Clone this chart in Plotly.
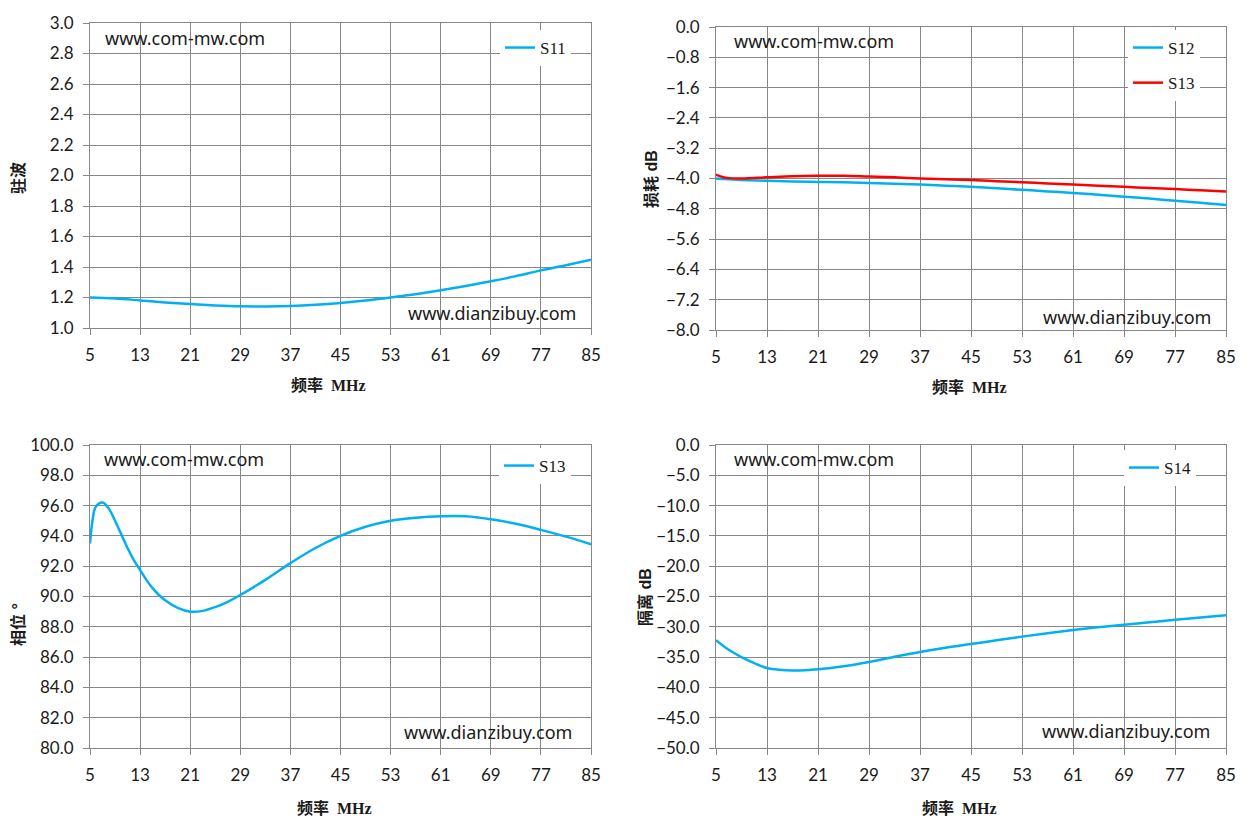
import plotly.graph_objects as go

W, H = 1252, 835

# ---------------- data ----------------
freq_s11 = [5, 9, 13, 17, 21, 25, 29, 33, 37, 41, 45, 49, 53, 57, 61, 65, 69, 73, 77, 81, 85]
vswr_s11 = [1.200, 1.193, 1.181, 1.168, 1.157, 1.148, 1.142, 1.141, 1.144, 1.152, 1.164, 1.180, 1.200, 1.222, 1.247, 1.275, 1.306, 1.340, 1.378, 1.412, 1.448]

freq_loss = [5, 6, 7, 9, 13, 17, 21, 25, 29, 33, 37, 41, 45, 49, 53, 57, 61, 65, 69, 73, 77, 81, 85]
loss_s12 = [-4.00, -4.01, -4.02, -4.04, -4.06, -4.08, -4.09, -4.10, -4.12, -4.14, -4.16, -4.19, -4.22, -4.26, -4.30, -4.34, -4.38, -4.43, -4.48, -4.53, -4.59, -4.64, -4.70]
loss_s13 = [-3.90, -3.96, -3.99, -4.00, -3.97, -3.94, -3.93, -3.93, -3.95, -3.97, -4.00, -4.02, -4.04, -4.07, -4.10, -4.13, -4.16, -4.19, -4.22, -4.25, -4.28, -4.31, -4.34]

freq_phase = [5, 5.4, 5.9, 7, 8, 9, 10, 11, 12, 13, 14, 15, 16, 17, 19, 21, 23, 25, 27, 29, 33, 37, 41, 45, 49, 53, 57, 61, 65, 69, 73, 77, 81, 85]
phase_s13 = [93.5, 95.0, 95.9, 96.2, 95.8, 95.0, 94.1, 93.2, 92.4, 91.75, 91.1, 90.55, 90.1, 89.75, 89.25, 89.0, 89.05, 89.3, 89.65, 90.1, 91.1, 92.2, 93.2, 94.0, 94.6, 95.0, 95.2, 95.3, 95.3, 95.1, 94.8, 94.4, 93.95, 93.45]

freq_iso = [5, 7, 9, 11, 13, 15, 17, 19, 21, 25, 29, 33, 37, 41, 45, 49, 53, 57, 61, 65, 69, 73, 77, 81, 85]
iso_s14 = [-32.2, -33.8, -35.0, -36.0, -36.8, -37.1, -37.2, -37.15, -37.0, -36.5, -35.8, -34.95, -34.15, -33.45, -32.85, -32.22, -31.62, -31.05, -30.52, -30.07, -29.65, -29.25, -28.85, -28.48, -28.1]

x_ticks = [5, 13, 21, 29, 37, 45, 53, 61, 69, 77, 85]
x_title = "频率  MHz"
y_titles = ["驻波", "损耗 dB", "相位 °", "隔离 dB"]
wm_top = "www.com-mw.com"
wm_bottom = "www.dianzibuy.com"

BLUE = "#00B0F0"
RED = "#FF0000"
GRID = "#878787"
TXT = "#1a1a1a"
TICKFONT = dict(family="Lato, Liberation Sans, sans-serif", size=17, color=TXT)
LEGFONT = dict(family="Liberation Serif, serif", size=17, color=TXT)
TITLEFONT = dict(family="Liberation Serif, Noto Sans CJK SC, serif", size=16, color=TXT, weight="bold")
YTFONT = dict(family="Liberation Sans, Noto Sans CJK SC, sans-serif", size=16, color=TXT, weight="bold")
WMFONT = dict(family="Noto Sans, sans-serif", size=18, color=TXT)

def px_x(p):
    return p / W

def px_y(p):
    return 1 - p / H

fig = go.Figure()
fig.add_trace(go.Scatter(x=freq_s11, y=vswr_s11, name="S11", mode="lines", line=dict(color=BLUE, width=2.5, shape="spline"),
                         xaxis="x", yaxis="y", legend="legend"))
fig.add_trace(go.Scatter(x=freq_loss, y=loss_s12, name="S12", mode="lines", line=dict(color=BLUE, width=2.5, shape="spline"),
                         xaxis="x2", yaxis="y2", legend="legend2", legendgroup="a"))
fig.add_trace(go.Scatter(x=freq_loss, y=loss_s13, name="S13", mode="lines", line=dict(color=RED, width=2.5, shape="spline"),
                         xaxis="x2", yaxis="y2", legend="legend2", legendgroup="b"))
fig.add_trace(go.Scatter(x=freq_phase, y=phase_s13, name="S13", mode="lines", line=dict(color=BLUE, width=2.5, shape="spline"),
                         xaxis="x3", yaxis="y3", legend="legend3"))
fig.add_trace(go.Scatter(x=freq_iso, y=iso_s14, name="S14", mode="lines", line=dict(color=BLUE, width=2.5, shape="spline"),
                         xaxis="x4", yaxis="y4", legend="legend4"))

# plot areas in pixels: (left, right, top, bottom)
areas = [(90, 591, 23, 328), (716, 1226, 27, 330), (90, 591, 445, 748), (716, 1226, 445, 748)]
yranges = [(1.0, 3.0, 0.2), (-8.0, 0.0, 0.8), (80.0, 100.0, 2.0), (-50.0, 0.0, 5.0)]

axcommon = dict(showgrid=True, gridcolor=GRID, gridwidth=1, showline=True, linecolor=GRID, linewidth=1,
                mirror=True, ticks="outside", ticklen=6, tickcolor=GRID, tickfont=TICKFONT, zeroline=False,
                ticklabelstandoff=6, automargin=False)

layout = dict(template="none", width=W, height=H, margin=dict(l=0, r=0, t=0, b=0, pad=0, autoexpand=False),
              paper_bgcolor="white", plot_bgcolor="white", showlegend=True, autosize=False)
for i, ((l, r, t, b), (y0, y1, dy)) in enumerate(zip(areas, yranges)):
    sfx = "" if i == 0 else str(i + 1)
    layout["xaxis" + sfx] = dict(axcommon, domain=[px_x(l), px_x(r)], range=[5, 85], tickmode="array",
                                 tickvals=x_ticks, ticktext=[str(v) for v in x_ticks],
                                 anchor="y" + sfx)
    layout["yaxis" + sfx] = dict(axcommon, domain=[px_y(b), px_y(t)], range=[y0, y1], tick0=y0, dtick=dy,
                                 tickformat=".1f", anchor="x" + sfx)

legpos = [(500, 30), (1128, 30), (499, 448), (1124, 450)]
for i, (lx, ly) in enumerate(legpos):
    key = "legend" if i == 0 else "legend" + str(i + 1)
    layout[key] = dict(x=px_x(lx), y=px_y(ly), xanchor="left", yanchor="top", bgcolor="white", borderwidth=0,
                       font=LEGFONT, itemwidth=30, tracegroupgap=10)
fig.update_layout(**layout)

ann = []
# watermarks (centers in px)
for cx, cy, txt in [(185, 38, wm_top), (492, 313, wm_bottom), (814, 41, wm_top), (1127, 317, wm_bottom),
                    (184, 459, wm_top), (488, 732, wm_bottom), (814, 459, wm_top), (1126, 731, wm_bottom)]:
    ann.append(dict(x=px_x(cx), y=px_y(cy), xref="paper", yref="paper", text=txt, showarrow=False,
                    xanchor="center", yanchor="middle", font=WMFONT))
# x titles
for cx, cy in [(328, 385), (969, 387), (334, 808), (959, 808)]:
    ann.append(dict(x=px_x(cx), y=px_y(cy), xref="paper", yref="paper", text=x_title, showarrow=False,
                    xanchor="center", yanchor="middle", font=TITLEFONT))
# y titles
for (cx, cy), txt in zip([(19, 178), (651, 179), (18, 625), (645, 597)], y_titles):
    ann.append(dict(x=px_x(cx), y=px_y(cy), xref="paper", yref="paper", text=txt, showarrow=False,
                    xanchor="center", yanchor="middle", textangle=-90, font=YTFONT))
fig.update_layout(annotations=ann)

fig.write_html("out.html", config={"displayModeBar": False},
               post_script="document.body.style.margin='0';document.body.style.padding='0';")
